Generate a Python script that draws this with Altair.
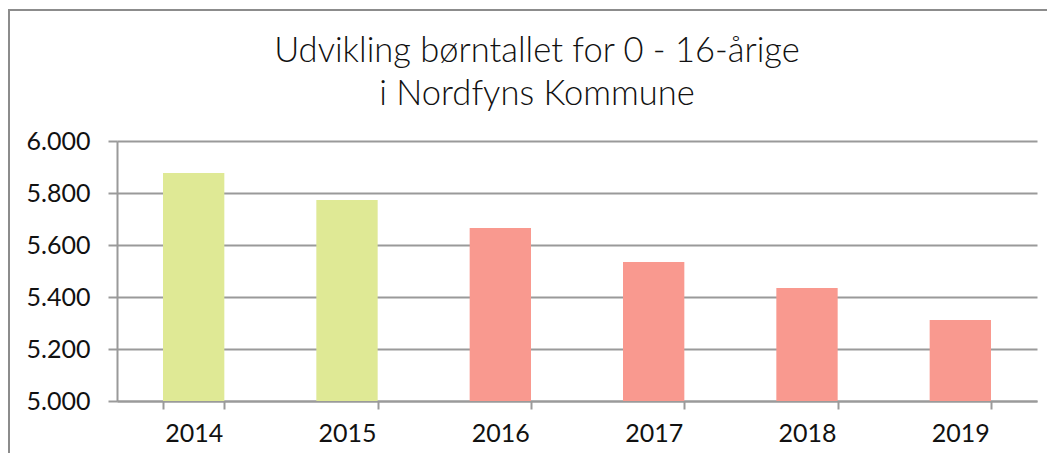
import altair as alt
import pandas as pd

years = ["2014", "2015", "2016", "2017", "2018", "2019"]
children = [5877, 5773, 5665, 5535, 5435, 5312]
bar_colors = ["#DFE995", "#DFE995", "#F9998F", "#F9998F", "#F9998F", "#F9998F"]
y_ticks = [5000, 5200, 5400, 5600, 5800, 6000]
title_lines = ["Udvikling børntallet for 0 - 16-årige", "i Nordfyns Kommune"]

df = pd.DataFrame({"aar": years, "antal": children})

FONT = "Lato"
GRAY = "#9a9a9a"

bars = alt.Chart(df).mark_bar(clip=True).encode(
    x=alt.X(
        "aar:N", title=None, sort=years,
        scale=alt.Scale(paddingInner=0.6, paddingOuter=0.3),
        axis=alt.Axis(
            labelAngle=0, tickBand="extent", grid=False,
            domainColor=GRAY, domainWidth=2, tickColor=GRAY, tickWidth=2, tickSize=8,
            labelPadding=12, labelFontSize=25, labelFont=FONT, labelColor="#111111",
        ),
    ),
    y=alt.Y(
        "antal:Q", title=None,
        scale=alt.Scale(domain=[5000, 6000], nice=False, zero=False),
        axis=alt.Axis(
            values=y_ticks,
            labelExpr="replace(format(datum.value, ','), ',', '.')",
            grid=True, gridColor=GRAY, gridWidth=2,
            domainColor=GRAY, domainWidth=2, tickColor=GRAY, tickWidth=2, tickSize=9,
            labelPadding=18, labelFontSize=25, labelFont=FONT, labelColor="#111111",
        ),
    ),
    color=alt.Color("aar:N", scale=alt.Scale(domain=years, range=bar_colors), legend=None),
)

frame = alt.Chart(alt.Data(values=[{"k": 1}])).mark_rect(
    fillOpacity=0, stroke="#8c8c8c", strokeWidth=2
).encode(
    x=alt.value(-108), x2=alt.value(960), y=alt.value(-131), y2=alt.value(420)
)

chart = alt.layer(frame, bars).properties(
    width=920,
    height=260,
    autosize="none",
    padding={"left": 109, "top": 133, "right": 10, "bottom": 52},
    title=alt.TitleParams(
        title_lines, font=FONT, fontSize=34.5, fontWeight=300, color="#111111",
        anchor="middle", frame="group", dx=-40, offset=0, dy=103, lineHeight=43,
    ),
).configure_view(stroke=None)

chart.save("out.html", embed_options={"renderer": "svg", "actions": False})
